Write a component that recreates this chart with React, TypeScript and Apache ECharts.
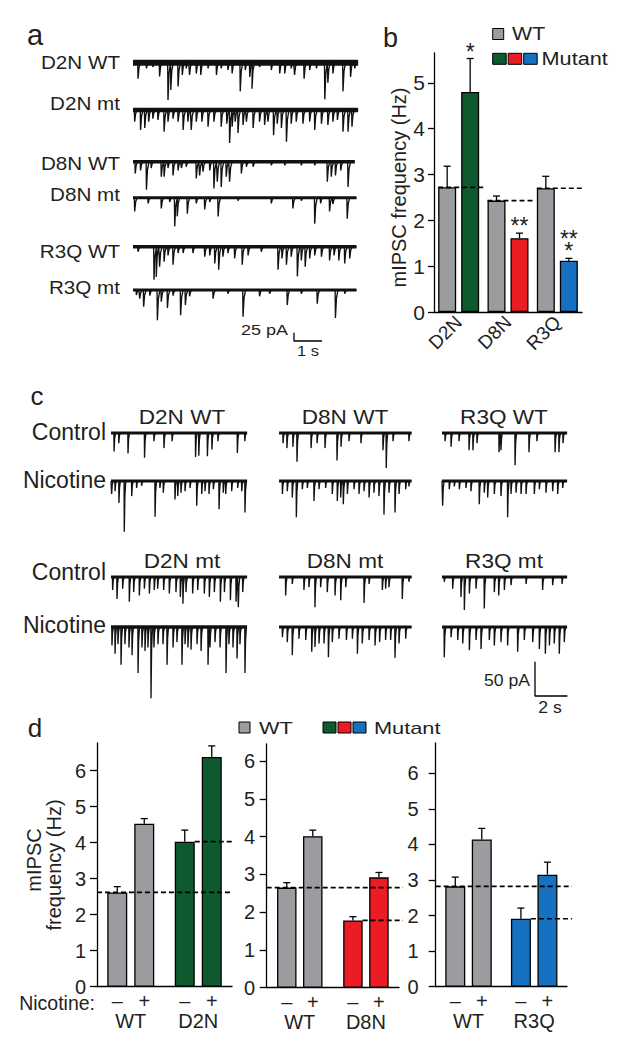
import React, { useEffect, useRef } from "react";
import * as echarts from "echarts";

// ======================= DATA =======================
// Panel a: mIPSC traces, events as [time (s), amplitude (pA)]
const aTraceNames = ["D2N WT", "D2N mt", "D8N WT", "D8N mt", "R3Q WT", "R3Q mt"];
const aDurations = [8.04, 8.04, 7.92, 7.98, 7.98, 7.98];
const aD2N_WT = [[0.18,48],[0.48,17],[0.71,13],[0.95,41],[1.25,112],[1.35,82],[1.61,71],[1.76,37],[1.90,17],[2.02,37],[2.26,32],[2.42,37],[2.68,17],[2.98,37],[3.15,17],[3.39,22],[3.54,32],[3.83,86],[4.01,22],[4.17,43],[4.25,78],[4.52,13],[4.94,22],[5.24,32],[5.42,32],[5.65,17],[5.77,37],[6.11,48],[6.31,22],[6.55,17],[6.85,110],[6.96,60],[7.14,32],[7.50,86],[7.77,43],[7.92,17]];
const aD2N_mt = [[0.06,35],[0.27,60],[0.42,54],[0.56,35],[0.71,26],[0.89,30],[1.11,65],[1.25,35],[1.43,26],[1.61,35],[1.79,60],[1.96,35],[2.08,60],[2.26,35],[2.46,35],[2.68,50],[2.89,35],[3.15,50],[3.35,41],[3.45,99],[3.54,50],[3.65,35],[3.75,69],[3.93,45],[4.05,35],[4.29,54],[4.52,35],[4.70,45],[4.82,35],[5.02,76],[5.15,41],[5.30,54],[5.48,95],[5.65,41],[5.83,35],[6.07,41],[6.31,35],[6.49,60],[6.73,41],[6.96,45],[7.14,35],[7.30,30],[7.50,65],[7.68,65],[7.82,50]];
const aD8N_WT = [[0.08,35],[0.27,26],[0.48,84],[0.65,19],[1.01,45],[1.11,45],[1.25,19],[1.43,41],[1.61,26],[1.73,19],[1.90,15],[2.26,50],[2.38,41],[2.50,30],[2.74,26],[2.89,80],[3.01,60],[3.15,76],[3.33,45],[3.45,60],[3.87,35],[4.05,15],[4.29,15],[4.94,11],[5.42,11],[6.01,11],[6.49,11],[6.94,60],[7.08,45],[7.23,41],[7.42,26],[7.68,76]];
const aD8N_mt = [[0.06,41],[0.54,17],[1.01,32],[1.31,13],[1.49,86],[1.58,56],[1.94,48],[2.26,17],[2.56,35],[2.74,13],[3.04,56],[3.75,9],[4.94,17],[5.71,32],[6.01,9],[6.49,78],[6.70,17],[7.02,41],[7.14,19],[7.65,63]];
const aR3Q_WT = [[0.18,15],[0.75,99],[0.83,91],[0.95,60],[1.11,45],[1.25,26],[1.43,54],[1.61,19],[1.79,19],[2.14,19],[2.56,30],[2.74,26],[2.92,50],[3.06,69],[3.21,30],[3.39,19],[3.63,35],[3.90,54],[4.11,26],[4.58,15],[5.18,69],[5.32,35],[5.48,54],[5.65,30],[5.87,89],[6.01,41],[6.15,60],[6.31,35],[6.49,26],[6.73,30],[7.02,41],[7.18,26],[7.35,41],[7.56,50],[7.74,35]];
const aR3Q_mt = [[0.12,15],[0.24,26],[0.38,50],[0.60,17],[0.87,91],[1.01,35],[1.23,54],[1.43,17],[1.70,76],[1.87,45],[2.02,19],[2.86,26],[3.39,11],[3.93,80],[4.52,19],[4.88,11],[5.51,45],[6.01,11],[6.58,41],[7.23,84],[7.56,11]];
const aTraces = [aD2N_WT, aD2N_mt, aD8N_WT, aD8N_mt, aR3Q_WT, aR3Q_mt];
const aScaleBar = { pA: 25, s: 1 };

// Panel b: mIPSC frequency (Hz)
const bGenes = ["D2N", "D8N", "R3Q"];
const bWT = [2.72, 2.43, 2.70];
const bWTsem = [0.46, 0.10, 0.26];
const bMut = [4.80, 1.61, 1.12];
const bMutSem = [0.73, 0.11, 0.05];
const bSig = [["*"], ["**"], ["**", "*"]];
const bTicks = [0, 1, 2, 3, 4, 5];

// Panel c: traces control / nicotine, events [time (s), amplitude (pA)]
const cTitlesWT = ["D2N WT", "D8N WT", "R3Q WT"];
const cTitlesMT = ["D2N mt", "D8N mt", "R3Q mt"];
const cRowLabels = ["Control", "Nicotine", "Control", "Nicotine"];
const cDurations = [8.4, 8.18, 7.72];
const cCtrlWT_D2N = [[0.19,27],[0.48,15],[1.05,30],[2.07,36],[2.65,12],[3.27,22],[3.77,12],[5.22,35],[5.42,33],[5.95,34],[6.23,24],[6.60,12],[7.80,29],[8.26,12]];
const cCtrlWT_D8N = [[0.25,15],[0.49,22],[0.86,20],[1.11,42],[1.98,22],[2.35,15],[2.84,22],[3.58,40],[3.83,20],[4.32,12],[5.06,15],[6.42,25],[6.62,51],[7.04,12],[8.02,12]];
const cCtrlWT_R3Q = [[0.19,12],[0.56,20],[1.05,12],[1.67,25],[1.91,25],[2.16,15],[3.52,28],[3.64,25],[4.51,47],[5.37,28],[5.86,12],[6.98,28],[7.22,28],[7.47,15]];
const cNicWT_D2N = [[0.04,19],[0.25,15],[0.49,32],[0.82,74],[1.28,22],[1.58,10],[1.89,7],[2.72,52],[3.02,10],[3.23,17],[3.95,27],[4.12,22],[4.32,17],[4.57,15],[4.88,10],[5.29,36],[5.60,19],[5.80,15],[6.05,19],[6.32,12],[6.67,41],[6.93,17],[7.08,19],[7.45,15],[7.82,10],[8.07,15],[8.27,46]];
const cNicWT_D8N = [[0.21,19],[0.51,15],[0.82,24],[1.07,53],[1.44,12],[1.75,10],[2.16,29],[2.47,12],[2.88,10],[3.29,19],[3.60,29],[3.81,24],[3.97,34],[4.22,19],[4.63,12],[4.94,19],[5.25,15],[5.56,24],[5.86,17],[6.17,22],[6.48,49],[6.79,17],[7.16,46],[7.41,19],[7.82,12],[8.02,8]];
const cNicWT_R3Q = [[0.04,36],[0.45,12],[0.76,8],[1.07,12],[1.48,10],[1.79,15],[2.30,34],[2.61,17],[2.82,24],[3.23,19],[3.64,22],[4.05,53],[4.26,19],[4.57,17],[4.88,19],[5.19,19],[5.70,19],[6.01,12],[6.42,17],[6.83,15],[7.14,19],[7.45,10]];
const cCtrlMT_D2N = [[0.10,19],[0.37,32],[0.72,17],[1.13,36],[1.40,22],[1.75,27],[2.06,17],[2.37,24],[2.67,19],[2.88,17],[3.25,19],[3.60,24],[4.01,22],[4.28,29],[4.44,39],[4.63,22],[5.04,24],[5.35,19],[5.76,24],[6.07,29],[6.38,22],[6.75,36],[7.00,22],[7.37,34],[7.72,36],[7.86,44],[8.13,22]];
const cCtrlMT_D8N = [[0.41,27],[0.82,10],[1.54,19],[1.85,15],[2.22,44],[2.57,15],[2.98,22],[3.46,27],[3.81,34],[4.12,15],[5.25,38],[5.56,10],[6.38,19],[6.58,17],[6.79,15],[7.61,32],[8.02,7]];
const cCtrlMT_R3Q = [[0.14,7],[0.66,17],[1.17,29],[1.38,48],[1.69,24],[2.10,17],[2.61,46],[3.23,22],[3.50,27],[3.85,19],[4.26,12],[5.19,10],[6.21,19],[6.83,12],[7.41,10]];
const cNicMT_D2N = [[0.06,27],[0.25,39],[0.43,25],[0.62,55],[0.86,25],[1.11,30],[1.30,41],[1.67,67],[1.91,30],[2.10,35],[2.28,30],[2.47,104],[2.65,30],[2.90,25],[3.21,25],[3.46,55],[3.83,30],[4.07,22],[4.38,55],[4.57,25],[4.75,30],[4.94,33],[5.31,25],[5.56,35],[5.99,55],[6.11,30],[6.42,22],[6.73,30],[7.10,67],[7.28,25],[7.53,30],[7.78,46],[7.96,25],[8.27,67]];
const cNicMT_D8N = [[0.21,15],[0.51,22],[0.82,41],[1.23,17],[1.65,19],[2.02,36],[2.22,29],[2.47,24],[2.78,24],[3.05,44],[3.29,22],[3.70,17],[4.16,19],[4.53,17],[4.84,39],[5.14,24],[5.56,19],[5.93,27],[6.21,22],[6.58,19],[6.89,19],[7.16,45],[7.41,24],[7.82,17]];
const cNicMT_R3Q = [[0.14,44],[0.56,15],[0.97,19],[1.28,24],[1.69,34],[2.10,19],[2.41,32],[2.92,19],[3.23,27],[3.64,22],[4.05,27],[4.67,36],[5.08,19],[5.60,22],[6.01,32],[6.38,39],[6.63,27],[6.93,24],[7.24,39],[7.55,22]];
// rows: Control WT, Nicotine WT, Control mt, Nicotine mt ; cols: D2N, D8N, R3Q
const cTraces = [
  [cCtrlWT_D2N, cCtrlWT_D8N, cCtrlWT_R3Q],
  [cNicWT_D2N, cNicWT_D8N, cNicWT_R3Q],
  [cCtrlMT_D2N, cCtrlMT_D8N, cCtrlMT_R3Q],
  [cNicMT_D2N, cNicMT_D8N, cNicMT_R3Q],
];
const cScaleBar = { pA: 50, s: 2 };

// Panel d: mIPSC frequency (Hz), [WT, mutant] for nicotine − and +
const dGroups = [["WT", "D2N"], ["WT", "D8N"], ["WT", "R3Q"]];
const dNicLabels = ["–", "+"];
const dMinus = [[2.62, 4.03], [2.65, 1.78], [2.82, 1.91]];
const dMinusSem = [[0.16, 0.32], [0.13, 0.10], [0.26, 0.30]];
const dPlus = [[4.53, 6.38], [4.01, 2.92], [4.14, 3.15]];
const dPlusSem = [[0.14, 0.31], [0.16, 0.13], [0.31, 0.35]];
const dTicks = [0, 1, 2, 3, 4, 5, 6];

// ======================= LAYOUT / STYLE =======================
const FONT = "'Liberation Sans', Arial, Helvetica, sans-serif";
const INK = "#231f20";
const GRAY = "#9b9ca0";
const MUT_COLORS = ["#0c5a2d", "#ec1c24", "#1671c1"];
const AX = { color: "#000", width: 1.3 };

const LA = { left: 133, top: 40, width: 225, height: 305, pxPerS: 28, pxPerPA: 1 / 3 };
const A_ROWS_Y = [62.7, 110, 161.7, 197.7, 246.7, 290];
const A_BAND = [6, 4.5, 3.6, 3, 3.6, 3.2];
const A_LABEL_Y = [63.3, 104.2, 164.2, 195, 252.5, 288];
const A_SCALE_POS = [294, 341];

const LC = { left: 111, top: 400, width: 459, height: 300, pxPerS: 16.2, pxPerPA: 0.686 };
const C_ROWS_Y = [433, 481, 577, 627];
const C_COLS_X = [111, 279, 442];
const C_TITLE_X = [182, 345, 504];
const C_ROW_LABEL_Y = [432, 479.5, 572, 625];
const C_SCALE_POS = [535, 696];

const LB = { left: 434, top: 53, width: 148, height: 259, max: 5.65, bw: 18, gap: 5 };
const LD = [
  { left: 97, right: 232, top: 743, bottom: 986.7, max: 6.77, margin: 11, bw: 20, gap: 7, extra: 0 },
  { left: 266.7, right: 399, top: 744, bottom: 987.7, max: 6.45, margin: 11.5, bw: 19.5, gap: 6.5, extra: 4 },
  { left: 435.7, right: 567, top: 743, bottom: 986.7, max: 6.85, margin: 17, bw: 20, gap: 6.5, extra: 5 },
];

function T(text: string, x: number, y: number, size: number, align = "center", sx = 1, rot = 0, lh?: number) {
  return {
    type: "text", x, y, scaleX: sx, rotation: rot, silent: true, z: 20,
    style: {
      text, fill: INK, font: `${size}px ${FONT}`, lineHeight: lh ?? size,
      textAlign: align, textVerticalAlign: "middle", align, verticalAlign: "middle",
    },
  };
}
function R(x: number, y: number, w: number, h: number, fill: string) {
  return { type: "rect", silent: true, z: 20, shape: { x, y, width: w, height: h }, style: { fill, stroke: "#000", lineWidth: 1 } };
}

function traceSeries(events: number[][], x0: number, dur: number, base: number, axisIdx: number, band: number) {
  const pts: number[][] = [[x0, base]];
  const ev = [...events].sort((p, q) => p[0] - q[0]);
  for (const [t, a] of ev) {
    pts.push([x0 + t - 0.012, base], [x0 + t, base - a], [x0 + t + 0.035, base - a * 0.3], [x0 + t + 0.09, base]);
  }
  pts.push([x0 + dur, base]);
  const common = { type: "line", xAxisIndex: axisIdx, yAxisIndex: axisIdx, symbol: "none", silent: true, clip: false };
  return [
    { ...common, z: 2, data: [[x0, base], [x0 + dur, base]], lineStyle: { color: "#111", width: band } },
    { ...common, z: 3, data: pts, lineStyle: { color: "#111", width: 1.35 } },
  ];
}

function errRender(off: number, cap: number) {
  return (params: any, api: any) => {
    const cat = api.value(0), s = api.value(1), m = api.value(2), e = api.value(3);
    const p0 = api.coord([cat, m]);
    const p1 = api.coord([cat, m + e]);
    const x = p0[0] + (s === 0 ? -off : off);
    const st = { stroke: "#000", lineWidth: 1.3 };
    return {
      type: "group",
      children: [
        { type: "line", shape: { x1: x, y1: p0[1], x2: x, y2: p1[1] }, style: st },
        { type: "line", shape: { x1: x - cap, y1: p1[1], x2: x + cap, y2: p1[1] }, style: st },
      ],
    };
  };
}

function buildOption() {
  const grid: any[] = [];
  const xAxis: any[] = [];
  const yAxis: any[] = [];
  const series: any[] = [];
  const graphic: any[] = [];

  // ---------- panel a (index 0)
  grid.push({ left: LA.left, top: LA.top, width: LA.width, height: LA.height });
  xAxis.push({ type: "value", gridIndex: 0, min: 0, max: LA.width / LA.pxPerS, show: false });
  yAxis.push({ type: "value", gridIndex: 0, min: -LA.height / LA.pxPerPA, max: 0, show: false });
  aTraces.forEach((ev, i) => {
    const base = -(A_ROWS_Y[i] - LA.top) / LA.pxPerPA;
    series.push(...traceSeries(ev, 0, aDurations[i], base, 0, A_BAND[i]));
  });
  {
    const sx = (A_SCALE_POS[0] - LA.left) / LA.pxPerS;
    const sy = -(A_SCALE_POS[1] - LA.top) / LA.pxPerPA;
    series.push({ type: "line", xAxisIndex: 0, yAxisIndex: 0, symbol: "none", silent: true, clip: false,
      data: [[sx, sy + aScaleBar.pA], [sx, sy], [sx + aScaleBar.s, sy]], lineStyle: { color: "#000", width: 1.3 } });
  }

  // ---------- panel b (index 1)
  grid.push({ left: LB.left, top: LB.top, width: LB.width, height: LB.height });
  xAxis.push({
    type: "category", gridIndex: 1, data: bGenes,
    axisLine: { lineStyle: AX }, axisTick: { show: false },
    axisLabel: { rotate: 45, margin: 7, fontSize: 19, color: INK, fontFamily: FONT },
  });
  yAxis.push({
    type: "value", gridIndex: 1, min: 0, max: LB.max, splitLine: { show: false },
    axisLine: { show: true, lineStyle: AX },
    axisTick: { show: true, length: 6, customValues: bTicks, lineStyle: AX },
    axisLabel: { customValues: bTicks, margin: 9, fontSize: 21, color: INK, fontFamily: FONT },
  });
  const barBorder = { borderColor: "#000", borderWidth: 1.3 };
  series.push({
    type: "bar", name: "WT", xAxisIndex: 1, yAxisIndex: 1, barWidth: LB.bw, barGap: `${(LB.gap / LB.bw) * 100}%`,
    data: bWT.map((v) => ({ value: v, itemStyle: { color: GRAY, ...barBorder } })), z: 2,
  });
  series.push({
    type: "bar", name: "Mutant", xAxisIndex: 1, yAxisIndex: 1, barWidth: LB.bw,
    data: bMut.map((v, i) => ({ value: v, itemStyle: { color: MUT_COLORS[i], ...barBorder } })), z: 2,
  });
  const bOff = (LB.bw + LB.gap) / 2;
  series.push({
    type: "custom", xAxisIndex: 1, yAxisIndex: 1, z: 4, silent: true,
    data: [...bWT.map((v, i) => [i, 0, v, bWTsem[i]]), ...bMut.map((v, i) => [i, 1, v, bMutSem[i]])],
    renderItem: errRender(bOff, 3.5),
  });
  series.push({
    type: "custom", xAxisIndex: 1, yAxisIndex: 1, z: 5, silent: true,
    data: bWT.map((v, i) => [i, v]),
    renderItem: (params: any, api: any) => {
      const p = api.coord([api.value(0), api.value(1)]);
      return { type: "line", shape: { x1: p[0] - bOff - LB.bw / 2, y1: p[1], x2: p[0] + bOff + LB.bw / 2 + 4, y2: p[1] },
        style: { stroke: "#000", lineWidth: 1.7, lineDash: [5, 3] } };
    },
  });
  series.push({
    type: "custom", xAxisIndex: 1, yAxisIndex: 1, z: 6, silent: true,
    data: bMut.map((v, i) => [i, v + bMutSem[i]]),
    renderItem: (params: any, api: any) => {
      const p = api.coord([api.value(0), api.value(1)]);
      const lines = bSig[params.dataIndex];
      return {
        type: "group",
        children: lines.map((s: string, k: number) => ({
          type: "text", x: p[0] + bOff, y: p[1] - 12 * (lines.length - k) + 5,
          style: { text: s, fill: INK, font: `23px ${FONT}`, lineHeight: 12, textAlign: "center", textVerticalAlign: "middle", align: "center", verticalAlign: "middle" },
        })),
      };
    },
  });

  // ---------- panel c (index 2)
  grid.push({ left: LC.left, top: LC.top, width: LC.width, height: LC.height });
  xAxis.push({ type: "value", gridIndex: 2, min: 0, max: LC.width / LC.pxPerS, show: false });
  yAxis.push({ type: "value", gridIndex: 2, min: -LC.height / LC.pxPerPA, max: 0, show: false });
  cTraces.forEach((row, r) => {
    const base = -(C_ROWS_Y[r] - LC.top) / LC.pxPerPA;
    row.forEach((ev, c) => {
      const x0 = (C_COLS_X[c] - LC.left) / LC.pxPerS;
      series.push(...traceSeries(ev, x0, cDurations[c], base, 2, r === 3 && c === 0 ? 3.4 : 2.8));
    });
  });
  {
    const sx = (C_SCALE_POS[0] - LC.left) / LC.pxPerS;
    const sy = -(C_SCALE_POS[1] - LC.top) / LC.pxPerPA;
    series.push({ type: "line", xAxisIndex: 2, yAxisIndex: 2, symbol: "none", silent: true, clip: false,
      data: [[sx, sy + cScaleBar.pA], [sx, sy], [sx + cScaleBar.s, sy]], lineStyle: { color: "#000", width: 1.3 } });
  }

  // ---------- panel d (indices 3,4,5)
  LD.forEach((L, i) => {
    const gi = 3 + i;
    grid.push({ left: L.left, top: L.top, width: L.right - L.left, height: L.bottom - L.top });
    xAxis.push({
      type: "category", gridIndex: gi, data: dGroups[i],
      axisLine: { lineStyle: AX }, axisTick: { show: false },
      axisLabel: { margin: 24, fontSize: 20, color: INK, fontFamily: FONT },
    });
    yAxis.push({
      type: "value", gridIndex: gi, min: 0, max: L.max, splitLine: { show: false },
      axisLine: { show: true, lineStyle: AX },
      axisTick: { show: true, length: 7, customValues: dTicks, lineStyle: AX },
      axisLabel: { customValues: dTicks, margin: L.margin, fontSize: 20, color: INK, fontFamily: FONT },
    });
    const lbl = (k: number) => ({ show: true, position: "bottom", distance: 4, formatter: dNicLabels[k], color: INK, fontSize: 20, fontFamily: FONT });
    const col = [GRAY, MUT_COLORS[i]];
    series.push({
      type: "bar", xAxisIndex: gi, yAxisIndex: gi, barWidth: L.bw, barGap: `${(L.gap / L.bw) * 100}%`, z: 2,
      data: dMinus[i].map((v, k) => ({ value: v, itemStyle: { color: col[k], ...barBorder } })), label: lbl(0),
    });
    series.push({
      type: "bar", xAxisIndex: gi, yAxisIndex: gi, barWidth: L.bw, z: 2,
      data: dPlus[i].map((v, k) => ({ value: v, itemStyle: { color: col[k], ...barBorder } })), label: lbl(1),
    });
    const off = (L.bw + L.gap) / 2;
    series.push({
      type: "custom", xAxisIndex: gi, yAxisIndex: gi, z: 4, silent: true,
      data: [
        ...dMinus[i].map((v, k) => [k, 0, v, dMinusSem[i][k]]),
        ...dPlus[i].map((v, k) => [k, 1, v, dPlusSem[i][k]]),
      ],
      renderItem: errRender(off, 3.5),
    });
    series.push({
      type: "custom", xAxisIndex: gi, yAxisIndex: gi, z: 5, silent: true,
      data: dMinus[i].map((v, k) => [k, v]),
      renderItem: (params: any, api: any) => {
        const k = api.value(0);
        const p = api.coord([k, api.value(1)]);
        const x1 = k === 0 ? L.left : p[0] - off + L.bw / 2;
        return { type: "line", shape: { x1, y1: p[1], x2: L.right + L.extra, y2: p[1] },
          style: { stroke: "#000", lineWidth: 1.7, lineDash: [5, 3] } };
      },
    });
  });

  // ---------- texts
  graphic.push(T("a", 35, 35, 29));
  aTraceNames.forEach((n, i) => graphic.push(T(n, 120, A_LABEL_Y[i], 17.5, "right", 1.18)));
  graphic.push(T(`${aScaleBar.pA} pA`, 288, 330, 15, "right", 1.2));
  graphic.push(T(`${aScaleBar.s} s`, 308, 351, 15, "center", 1.1));

  graphic.push(T("b", 390.5, 37.5, 27));
  graphic.push(R(492.7, 28.5, 11, 11, GRAY));
  graphic.push(T("WT", 512, 34, 17.5, "left", 1.22));
  MUT_COLORS.forEach((c, k) => graphic.push(R(492.7 + k * 15.5, 53.3, 13.5, 11, c)));
  graphic.push(T("Mutant", 541.5, 59, 17.5, "left", 1.24));
  graphic.push(T("mIPSC frequency (Hz)", 398.5, 187.5, 20, "center", 1, Math.PI / 2));

  graphic.push(T("c", 37, 396, 26));
  C_TITLE_X.forEach((x, k) => {
    graphic.push(T(cTitlesWT[k], x, 417, 20, "center", 1.13));
    graphic.push(T(cTitlesMT[k], x, 561, 20, "center", 1.13));
  });
  cRowLabels.forEach((l, r) => graphic.push(T(l, 106, C_ROW_LABEL_Y[r], 23, "right")));
  graphic.push(T(`${cScaleBar.pA} pA`, 530, 681, 16, "right", 1.1));
  graphic.push(T(`${cScaleBar.s} s`, 550, 708, 16, "center", 1.1));

  graphic.push(T("d", 35, 727.5, 26));
  graphic.push(R(239, 722, 11, 11, GRAY));
  graphic.push(T("WT", 259, 727.5, 17, "left", 1.28));
  MUT_COLORS.forEach((c, k) => graphic.push(R(323 + k * 15, 722, 13, 11, c)));
  graphic.push(T("Mutant", 374, 727.5, 17, "left", 1.28));
  graphic.push(T("mIPSC", 33.5, 860, 20, "center", 1, Math.PI / 2));
  graphic.push(T("frequency (Hz)", 53.5, 865, 20, "center", 1, Math.PI / 2));
  graphic.push(T("Nicotine:", 95, 1003, 19.5, "right", 1, 0, 14));

  return { animation: false, backgroundColor: "#fff", grid, xAxis, yAxis, series, graphic };
}

export default function App() {
  const ref = useRef<HTMLDivElement>(null);
  useEffect(() => {
    document.body.style.margin = "0";
    const chart = echarts.init(ref.current!, undefined, { renderer: "svg" });
    chart.setOption(buildOption() as any);
    return () => chart.dispose();
  }, []);
  return <div ref={ref} style={{ width: 624, height: 1049, background: "#fff" }} />;
}
